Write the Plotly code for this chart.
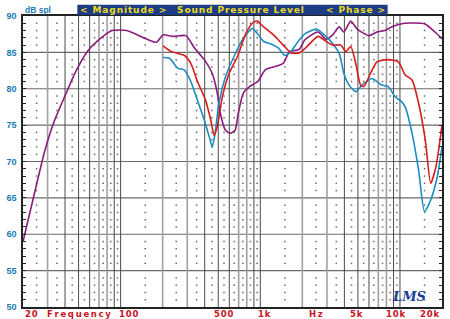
import math
import plotly.graph_objects as go

# ---------------- data ----------------
purple_f = [20, 23.4, 28.5, 33.4, 39.3, 47.5, 57.6, 67.7, 86.7, 110.6, 180, 201, 236, 293,
            338, 397, 453, 492, 518, 563, 610, 660, 695, 756, 837, 961, 1085, 1243, 1460,
            1620, 1900, 2080, 2590, 2960, 3300, 3670, 3970, 4440, 4950, 5980, 6840, 7810,
            8700, 10800, 15100, 17800, 20000]
purple_db = [59.0, 64.5, 71.3, 75.5, 78.7, 82.3, 85.1, 86.5, 88.0, 88.0, 86.4, 87.4, 87.2, 87.3,
             85.6, 84.0, 82.1, 79.4, 76.6, 74.3, 73.9, 74.3, 76.6, 79.4, 80.3, 81.0, 82.6, 83.0, 83.5,
             85.1, 85.4, 86.7, 87.8, 86.8, 87.4, 88.5, 87.8, 89.3, 88.2, 87.3, 87.8, 88.0,
             88.5, 89.0, 88.9, 87.8, 86.9]

red_f = [201, 231, 285, 318, 355, 406, 442, 467, 492, 535, 598, 685, 789, 877, 950, 1057,
         1243, 1460, 1670, 1900, 2110, 2590, 2960, 3300, 3780, 4100, 4440, 4820, 5230, 5520,
         6150, 6840, 8270, 9750, 10900, 12200, 13600, 15200, 16600, 18100, 20000]
red_db = [85.9, 85.1, 84.6, 83.5, 81.0, 78.4, 75.7, 73.6, 74.8, 78.9, 82.1, 84.4, 87.6, 89.0, 89.3, 88.5,
          87.4, 86.0, 84.9, 84.9, 85.6, 87.2, 86.5, 86.0, 86.0, 85.1, 85.8, 83.5, 80.5, 80.3,
          82.1, 83.7, 84.0, 83.7, 81.9, 81.2, 78.0, 72.9, 67.0, 69.3, 75.0]

blue_f = [201, 224, 257, 285, 318, 355, 397, 431, 453, 478, 505, 563, 647, 756, 877, 1057,
          1180, 1350, 1490, 1620, 1900, 2110, 2520, 2960, 3300, 3670, 3970, 4320, 4820, 5360,
          6300, 7400, 8270, 9230, 10300, 10900, 12200, 13600, 15000, 16600, 18500, 20000]
blue_db = [84.3, 84.2, 82.8, 82.6, 81.0, 78.4, 75.7, 73.4, 72.0, 74.3, 78.0, 81.6, 84.4, 86.9, 88.3, 86.5,
           86.2, 85.6, 84.6, 84.9, 86.7, 87.6, 88.2, 87.2, 86.2, 84.9, 82.1, 80.5, 79.6, 80.5,
           81.4, 80.5, 80.3, 78.9, 78.2, 77.5, 73.9, 68.8, 63.1, 64.7, 67.9, 72.0]

# axis / tick data
x_min, x_max = 20, 20000
y_min, y_max = 50, 90
y_tick_vals = [50, 55, 60, 65, 70, 75, 80, 85, 90]
y_tick_text = ["50", "55", "60", "65", "70", "75", "80", "85", "90"]
x_tick_freqs = [20, 100, 500, 1000, 5000, 10000, 20000]
x_tick_labels = ["20", "100", "500", "1k", "5k", "10k", "20k"]
x_title_freqs = [50, 2500]
x_title_labels = ["Frequency", "Hz"]
banner_labels = ["< Magnitude >", "Sound Pressure Level", "< Phase >"]

# grid definitions
decades = [10, 100, 1000, 10000]
light_digits = [2, 3, 7, 8]
dark_digits = [1, 4, 5, 6, 9]
half_digits = [1.5, 2.5, 3.5, 4.5, 5.5, 6.5, 7.5, 8.5, 9.5]
major_db = [55, 60, 65, 70, 75, 80, 85]

# ---------------- styling ----------------
C_PURPLE = "#8a1c7c"
C_RED = "#d81c1c"
C_BLUE = "#1a8cc4"
C_YLAB = "#1a7cb4"
C_XLAB = "#c8141c"
C_BANNER = "#1e3c86"
C_BANNER_TXT = "#ecdc1c"
FONT = "Liberation Sans"
WIDE = "DejaVu Sans"
HAIR = "\u200a"


def spaced(s, gap=HAIR):
    return gap.join(list(s))


def in_range(f):
    return x_min < f < x_max


fig = go.Figure()


def vline_trace(freqs, color, width):
    xs, ys = [], []
    for f in freqs:
        xs += [f, f, None]
        ys += [y_min, y_max, None]
    return go.Scatter(x=xs, y=ys, mode="lines", line=dict(color=color, width=width),
                      hoverinfo="skip", showlegend=False)


light_f = [d * k for d in decades for k in light_digits if in_range(d * k)]
dark_f = [d * k for d in decades for k in dark_digits if in_range(d * k)]
half_f = [d * k for d in decades for k in half_digits if in_range(d * k)]

# horizontal major lines
hx, hy = [], []
for v in major_db:
    hx += [x_min, x_max, None]
    hy += [v, v, None]
fig.add_trace(go.Scatter(x=hx, y=hy, mode="lines", line=dict(color="#6a6a6a", width=1.2),
                         hoverinfo="skip", showlegend=False))
fig.add_trace(vline_trace(light_f, "#a0a0a0", 1.6))
fig.add_trace(vline_trace(dark_f, "#4a4a4a", 1.0))

# dotted grid
dx, dy = [], []
for f in half_f:
    for v in range(y_min + 1, y_max):
        if v % 5 != 0:
            dx.append(f)
            dy.append(v)
fig.add_trace(go.Scatter(x=dx, y=dy, mode="markers",
                         marker=dict(symbol="square", size=1.5, color="#6a6a6a", line=dict(width=0)),
                         hoverinfo="skip", showlegend=False))

# curves
for f, db, col in [(purple_f, purple_db, C_PURPLE), (blue_f, blue_db, C_BLUE), (red_f, red_db, C_RED)]:
    fig.add_trace(go.Scatter(x=f, y=db, mode="lines",
                             line=dict(color=col, width=1.6, shape="spline", smoothing=0.6),
                             hoverinfo="skip", showlegend=False))

# ---------------- layout ----------------
L, R, T, B = 20, 6, 16, 12
W, H = 450, 319
plot_w = W - L - R
plot_h = H - T - B

fig.update_layout(
    width=W, height=H,
    margin=dict(l=L, r=R, t=T, b=B, pad=0),
    paper_bgcolor="white", plot_bgcolor="white",
    showlegend=False,
    xaxis=dict(type="log", range=[math.log10(x_min), math.log10(x_max)],
               showgrid=False, zeroline=False, showticklabels=False, ticks="",
               showline=True, linecolor="#222", linewidth=1.5, mirror=True),
    yaxis=dict(range=[y_min, y_max], showgrid=False, zeroline=False,
               tickvals=y_tick_vals, ticktext=y_tick_text,
               tickfont=dict(family=FONT, size=9, color=C_YLAB, weight="bold"),
               ticks="inside", ticklen=3, tickcolor="#222", tickwidth=1,
               minor=dict(ticks="inside", ticklen=3, dtick=1, tickcolor="#222", tickwidth=1),
               showline=True, linecolor="#222", linewidth=1.5, mirror="ticks",
               ticklabelstandoff=3),
)

annotations = []
# x tick labels
x_shift = {"20": 0, "100": 8, "500": 6, "1k": 4, "5k": -1, "10k": -4, "20k": 0}
for f, lab in zip(x_tick_freqs, x_tick_labels):
    anchor = "left" if f == x_min else ("right" if f == x_max else "center")
    annotations.append(dict(x=math.log10(f), xref="x", y=0, yref="paper", yanchor="top",
                            xanchor=anchor, xshift=x_shift[lab], text=spaced(lab),
                            showarrow=False,
                            font=dict(family=WIDE, size=8.5, color=C_XLAB, weight="bold")))
for f, lab in zip(x_title_freqs, x_title_labels):
    annotations.append(dict(x=math.log10(f), xref="x", y=0, yref="paper", yanchor="top",
                            xanchor="center", text=spaced(lab, "\u2009"), showarrow=False,
                            font=dict(family=WIDE, size=8.5, color=C_XLAB, weight="bold")))

# dB spl
annotations.append(dict(x=0, xref="paper", y=(plot_h + 6.5) / plot_h, yref="paper",
                        xanchor="left", yanchor="middle", text="dB spl", showarrow=False,
                        font=dict(family=FONT, size=8.5, color=C_YLAB, weight="bold")))

# banner
bx0, bx1 = (75 - L) / plot_w, (389 - L) / plot_w
by0, by1 = (plot_h + 1) / plot_h, (plot_h + 11.3) / plot_h
fig.add_shape(type="rect", xref="paper", yref="paper", x0=bx0, x1=bx1, y0=by0, y1=by1,
              fillcolor=C_BANNER, line=dict(width=0), layer="above")
banner_pos = [(76, "left"), (240, "center"), (388, "right")]
for (px, anc), lab in zip(banner_pos, banner_labels):
    annotations.append(dict(x=(px - L) / plot_w, xref="paper", y=(by0 + by1) / 2, yref="paper",
                            xanchor=anc, yanchor="middle", text=spaced(lab), showarrow=False,
                            font=dict(family=WIDE, size=9, color=C_BANNER_TXT, weight="bold")))

# LMS logo
annotations.append(dict(x=(411 - L) / plot_w, xref="paper", y=(H - B - 296) / plot_h, yref="paper",
                        xanchor="center", yanchor="middle", text="<b><i>LMS</i></b>", showarrow=False,
                        font=dict(family="DejaVu Serif", size=13, color="#1a3c9c")))

fig.update_layout(annotations=annotations)
fig.write_html("out.html")
